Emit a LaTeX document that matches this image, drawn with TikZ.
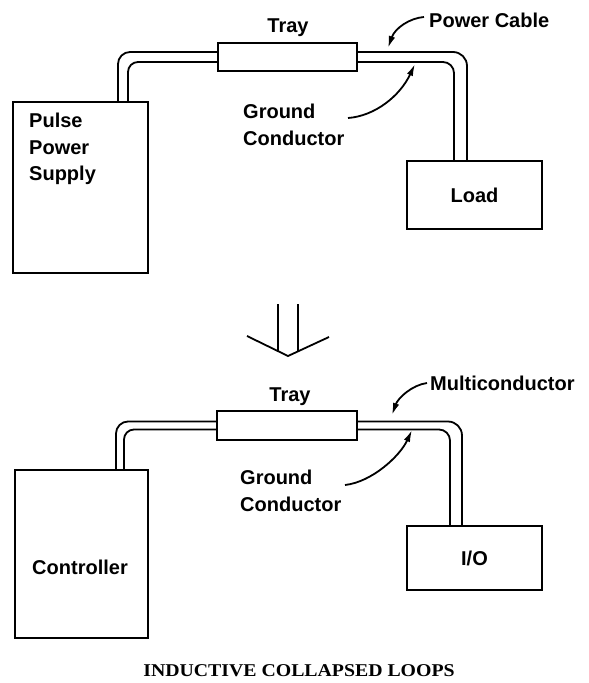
\documentclass[tikz,border=0pt]{standalone}
\usepackage{fontspec}
\usepackage{graphicx}
\setmainfont{Liberation Sans}
\newfontfamily\capfont{Liberation Serif}
\usetikzlibrary{calc,arrows.meta}
\begin{document}
\begin{tikzpicture}[x=1pt,y=-1pt,
  box/.style={draw,line width=1.8pt,inner sep=0pt,outer sep=0pt},
  lbl/.style={font=\fontsize{20}{26.5}\selectfont\bfseries,inner sep=0pt},
  cable/.style={line width=1.8pt,rounded corners=12pt},
  pointer/.style={line width=1.8pt,-{Latex[length=12pt,width=6.5pt]}},
  thick line/.style={line width=1.8pt}]
\useasboundingbox (0,0) rectangle (589,683);

% ---------- top figure ----------
\node[box,minimum width=135pt,minimum height=171pt] (pps) at (80.5,187.5) {};
\node[lbl,anchor=north west,align=left] (ppstxt) at (29,113) {Pulse\\Power\\Supply};
\node[box,minimum width=135pt,minimum height=68pt,lbl] (load) at (474.5,195) {Load};
\node[box,minimum width=139pt,minimum height=28pt] (tray) at (287.5,57) {};
\node[lbl] (traytxt) at (288,28) {Tray};
\node[lbl,anchor=west] (pc) at (429,20) {Power Cable};
\node[lbl,anchor=north west,align=left] (gc) at (243,104) {Ground\\Conductor};

\draw[cable] ($(pps.north west)+(105,0)$) |- ($(tray.west)+(0,-5)$);
\draw[cable,rounded corners=10pt] ($(pps.north west)+(115,0)$) |- ($(tray.west)+(0,5)$);
\draw[cable,rounded corners=14pt] ($(tray.east)+(0,-5)$) -| ($(load.north west)+(60,0)$);
\draw[cable,rounded corners=11pt] ($(tray.east)+(0,5)$) -| ($(load.north west)+(47,0)$);

\coordinate (pcs) at (424,17);
\coordinate (pct) at (388,48);
\draw[pointer] (pcs) .. controls (410,18) and (395,28) .. (pct);
\coordinate (gcs) at (348,118);
\coordinate (gct) at (415,64);
\draw[pointer] (gcs) .. controls (375,116) and (400,96) .. (gct);

% ---------- down arrow ----------
\coordinate (da1) at (278,304);
\coordinate (da2) at (298,304);
\draw[thick line] (da1) -- (278,352);
\draw[thick line] (da2) -- (298,352);
\draw[thick line] (247,336) -- (288,356) -- (329,337);

% ---------- bottom figure ----------
\node[box,minimum width=133pt,minimum height=168pt] (ctrl) at (81.5,554) {};
\node[lbl] (ctrltxt) at (80,567) {Controller};
\node[box,minimum width=135pt,minimum height=64pt,lbl] (io) at (474.5,558) {I/O};
\node[box,minimum width=140pt,minimum height=29pt] (tray2) at (287,425.5) {};
\node[lbl] (tray2txt) at (290,397) {Tray};
\node[lbl,anchor=west] (mc) at (430,383) {Multiconductor};
\node[lbl,anchor=north west,align=left] (gc2) at (240,470) {Ground\\Conductor};

\draw[cable] ($(ctrl.north west)+(101,0)$) |- ($(tray2.west)+(0,-4)$);
\draw[cable,rounded corners=10pt] ($(ctrl.north west)+(109,0)$) |- ($(tray2.west)+(0,4)$);
\draw[cable,rounded corners=14pt] ($(tray2.east)+(0,-4)$) -| ($(io.north west)+(55,0)$);
\draw[cable,rounded corners=11pt] ($(tray2.east)+(0,4)$) -| ($(io.north west)+(43,0)$);

\coordinate (mcs) at (427,383);
\coordinate (mct) at (392,415);
\draw[pointer] (mcs) .. controls (412,385) and (398,398) .. (mct);
\coordinate (gc2s) at (345,485);
\coordinate (gc2t) at (412,430);
\draw[pointer] (gc2s) .. controls (372,482) and (400,456) .. (gc2t);

% ---------- caption ----------
\node[font=\capfont\bfseries\fontsize{18}{21}\selectfont,inner sep=0pt] (cap) at (299,671)
  {\scalebox{1.1}[1]{INDUCTIVE COLLAPSED LOOPS}};
\end{tikzpicture}
\end{document}
